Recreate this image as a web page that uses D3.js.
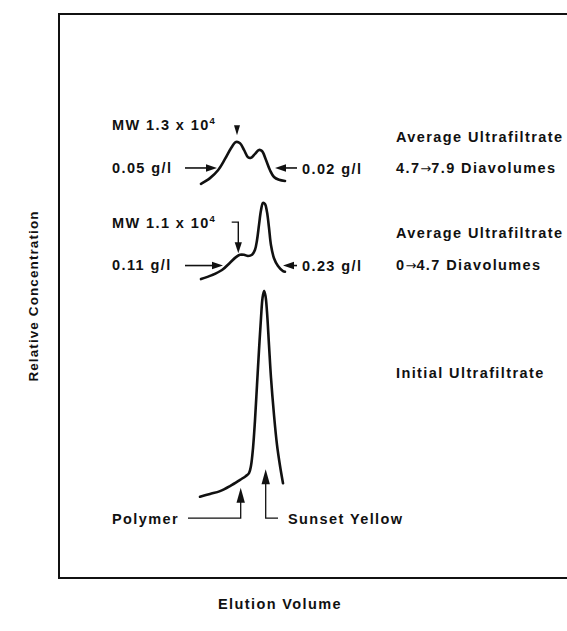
<!DOCTYPE html>
<html>
<head>
<meta charset="utf-8">
<script src="https://cdn.jsdelivr.net/npm/d3@7"></script>
<style>
  html, body { margin: 0; padding: 0; background: #fff; }
  svg { display: block; }
  text { font-family: "Liberation Sans", Arial, Helvetica, sans-serif; font-weight: bold; fill: #111; }
</style>
</head>
<body>
<svg id="chart" width="567" height="631"></svg>
<script>
// ---------- data (elution volume units, relative concentration %) ----------
// Trace: average ultrafiltrate 4.7 -> 7.9 diavolumes
const trace1X = [14.2, 15.1, 15.9, 16.6, 17.2, 17.7, 18.1, 18.5, 18.9, 19.2, 19.6, 20.0, 20.3, 20.7, 21.1, 21.5, 22.0, 22.6];
const trace1Y = [69.9, 70.9, 72.3, 74.3, 76.2, 77.3, 77.1, 75.9, 74.6, 74.5, 75.2, 75.9, 75.7, 74.1, 72.3, 71.1, 70.6, 70.4];
// Trace: average ultrafiltrate 0 -> 4.7 diavolumes
const trace2X = [14.2, 15.3, 16.3, 17.1, 17.7, 18.1, 18.5, 18.9, 19.3, 19.6, 19.8, 20.0, 20.2, 20.4, 20.6, 20.8, 21.0, 21.2, 21.5, 21.9, 22.4, 22.6];
const trace2Y = [53.0, 53.7, 54.6, 55.9, 56.9, 57.3, 57.3, 57.1, 57.3, 58.2, 59.9, 62.6, 65.2, 66.5, 66.3, 64.9, 62.1, 59.0, 56.7, 55.3, 54.4, 54.3];
// Trace: initial ultrafiltrate
const trace3X = [14.1, 15.1, 16.1, 17.1, 18.1, 18.7, 19.0, 19.2, 19.4, 19.6, 19.8, 20.0, 20.2, 20.35, 20.5, 20.65, 20.8, 21.0, 21.2, 21.5, 21.8, 22.1, 22.4];
const trace3Y = [14.4, 14.9, 15.4, 16.3, 17.4, 18.1, 18.6, 19.9, 23.0, 28.0, 34.2, 40.4, 46.1, 49.6, 50.9, 50.0, 47.2, 41.3, 35.5, 28.9, 23.6, 19.9, 16.8];

// Trace labels (right side)
const traceTitles = ["Average Ultrafiltrate", "Average Ultrafiltrate", "Initial Ultrafiltrate"];
const rangeFrom = ["4.7", "0", ""];
const rangeTo = ["7.9", "4.7", ""];
const rangeUnit = " Diavolumes";

// Concentration annotations
const leftConc = ["0.05 g/l", "0.11 g/l"];
const rightConc = ["0.02 g/l", "0.23 g/l"];
const mwLabels = ["MW 1.3 x 10", "MW 1.1 x 10"];
const mwExp = ["4", "4"];
const peakNames = ["Polymer", "Sunset Yellow"];

const xTitle = "Elution Volume";
const yTitle = "Relative Concentration";

// ---------- layout ----------
const svg = d3.select("#chart");
const box = { left: 59, top: 14, right: 578, bottom: 578 };

const x = d3.scaleLinear().domain([0, 51]).range([box.left, box.left + 510]);
const y = d3.scaleLinear().domain([0, 100]).range([box.bottom, box.top]);

// frame
svg.append("rect")
  .attr("x", box.left).attr("y", box.top)
  .attr("width", box.right - box.left).attr("height", box.bottom - box.top)
  .attr("fill", "none").attr("stroke", "#111").attr("stroke-width", 2);

// traces
const traces = [
  d3.zip(trace1X, trace1Y),
  d3.zip(trace2X, trace2Y),
  d3.zip(trace3X, trace3Y)
];
const line = d3.line().x(d => x(d[0])).y(d => y(d[1])).curve(d3.curveCatmullRom.alpha(0.5));
svg.selectAll("path.trace").data(traces).join("path")
  .attr("class", "trace")
  .attr("d", line)
  .attr("fill", "none").attr("stroke", "#111")
  .attr("stroke-width", 2.6).attr("stroke-linecap", "round").attr("stroke-linejoin", "round");

// arrowhead helper: filled triangle at tip (px), pointing in direction (dx,dy)
function head(tx, ty, dx, dy, len, half) {
  const n = Math.hypot(dx, dy); dx /= n; dy /= n;
  const bx = tx - dx * len, by = ty - dy * len;
  const px = -dy, py = dx;
  svg.append("path")
    .attr("d", `M${tx},${ty}L${bx + px * half},${by + py * half}L${bx - px * half},${by - py * half}Z`)
    .attr("fill", "#111");
}
function polyArrow(pts, len, half, sw) {
  const p = pts.map(d => [x(d[0]), y(d[1])]);
  const a = p[p.length - 2], b = p[p.length - 1];
  const dx = b[0] - a[0], dy = b[1] - a[1];
  const n = Math.hypot(dx, dy);
  const shortened = p.slice(0, -1).concat([[b[0] - dx / n * (len - 1), b[1] - dy / n * (len - 1)]]);
  svg.append("path").attr("d", d3.line()(shortened))
    .attr("fill", "none").attr("stroke", "#111").attr("stroke-width", sw);
  head(b[0], b[1], dx, dy, len, half);
}

// horizontal concentration arrows (data coords: tail -> tip)
const concArrowRows = [72.7, 55.4];
const leftTips = [15.8, 16.4];
const rightTips = [21.6, 22.4];
concArrowRows.forEach((r, i) => {
  polyArrow([[12.6, r], [leftTips[i], r]], 11, 3.8, 1.6);
  polyArrow([[23.8, r], [rightTips[i], r]], 11, 3.8, 1.6);
});

// MW 1.3 marker: downward triangle above peak
head(x(17.8), y(78.5), 0, 1, 10, 3);
// MW 1.1 bracket arrow
polyArrow([[17.27, 63.1], [17.93, 63.1], [17.93, 57.6]], 11, 3.6, 1.4);
// Polymer and Sunset Yellow arrows
polyArrow([[12.9, 10.6], [18.17, 10.6], [18.17, 16.0]], 15, 4.2, 1.3);
polyArrow([[21.9, 10.6], [20.67, 10.6], [20.67, 19.3]], 15, 4.2, 1.3);

// ---------- text ----------
const fs = 14.5, ls = 1.4;
function label(tx, ty, str, anchor) {
  return svg.append("text").attr("x", tx).attr("y", ty)
    .attr("font-size", fs).attr("letter-spacing", ls)
    .attr("text-anchor", anchor || "start").text(str);
}

// MW labels with superscript
const mwBase = [130, 228];
mwLabels.forEach((s, i) => {
  const t = svg.append("text").attr("x", 112).attr("y", mwBase[i])
    .attr("font-size", fs).attr("letter-spacing", ls);
  t.append("tspan").text(s);
  t.append("tspan").attr("dy", -6).attr("font-size", 9.5).text(mwExp[i]);
});

// concentration labels
const concBase = [173, 270];
leftConc.forEach((s, i) => label(112, concBase[i], s));
rightConc.forEach((s, i) => label(302, concBase[i] + 0.5, s));

// right-side trace titles
const titleBase = [142, 238, 378];
const subBase = [173, 270];
traceTitles.forEach((s, i) => label(396, titleBase[i], s));
rangeFrom.forEach((s, i) => {
  if (!s) return;
  const t = svg.append("text").attr("x", 396).attr("y", subBase[i])
    .attr("font-size", fs).attr("letter-spacing", ls);
  t.append("tspan").text(s);
  t.append("tspan").attr("font-family", "'DejaVu Sans', sans-serif")
    .attr("font-weight", "normal").attr("font-size", 13).attr("letter-spacing", 0).text("\u2192");
  t.append("tspan").text(rangeTo[i] + rangeUnit);
});

// peak names
label(112, 524, peakNames[0]);
label(288, 524, peakNames[1]);

// axis titles
label(280, 609, xTitle, "middle");
svg.append("text")
  .attr("transform", `translate(38, ${(box.top + box.bottom) / 2}) rotate(-90)`)
  .attr("font-size", 13.5).attr("letter-spacing", 1.1)
  .attr("text-anchor", "middle").text(yTitle);
</script>
</body>
</html>
